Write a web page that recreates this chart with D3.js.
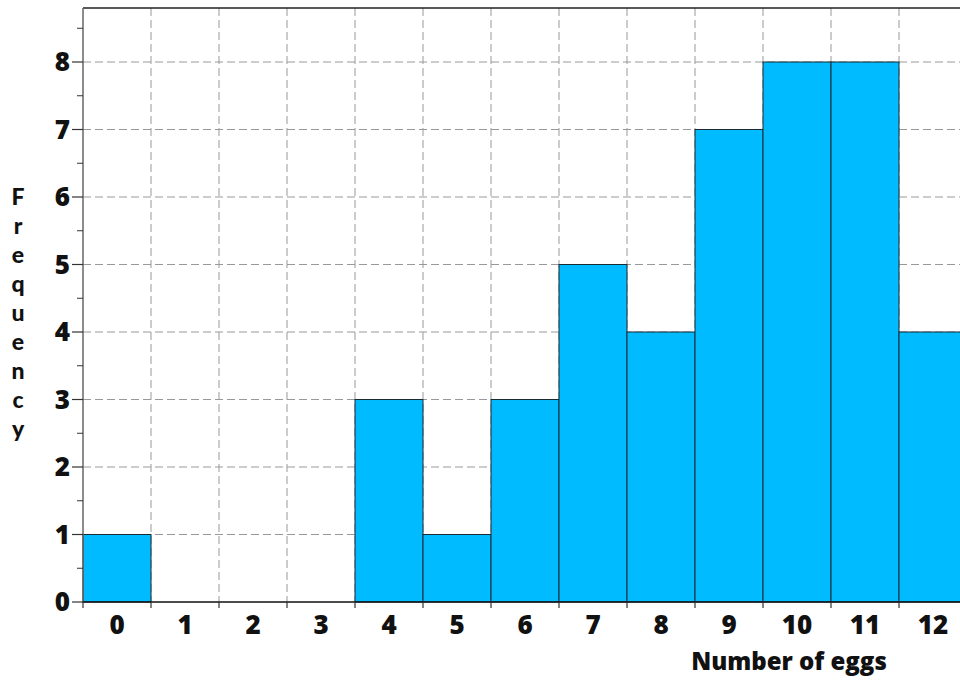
<!DOCTYPE html>
<html><head><meta charset="utf-8">
<script src="https://cdn.jsdelivr.net/npm/d3@7/dist/d3.min.js"></script>
<style>body{margin:0;background:#fff}svg{display:block}</style>
</head><body>
<script>
const categories = ["0","1","2","3","4","5","6","7","8","9","10","11","12"];
const frequencies = [1,0,0,0,3,1,3,5,4,7,8,8,4];
const yTicks = [0,1,2,3,4,5,6,7,8];
const xTitle = "Number of eggs";
const yTitle = "Frequency";

const W = 960, H = 681;
const svg = d3.select("body").append("svg").attr("width", W).attr("height", H);
const font = "'Open Sans', Lato, sans-serif";

const x = d3.scaleBand().domain(categories).range([83, 967]).padding(0);
const y = d3.scaleLinear().domain([0, 8.8]).range([602, 8]);

const g = svg.append("g");
g.selectAll("line.hg").data(yTicks.slice(1)).join("line")
  .attr("x1", x.range()[0]).attr("x2", W)
  .attr("y1", d => y(d)).attr("y2", d => y(d))
  .attr("stroke", "#999").attr("stroke-width", 1).attr("stroke-dasharray", "8,4");
const bounds = categories.slice(1).map(c => x(c));
g.selectAll("line.vg").data(bounds).join("line")
  .attr("x1", d => d).attr("x2", d => d)
  .attr("y1", y(8.8)).attr("y2", y(0))
  .attr("stroke", "#999").attr("stroke-width", 1).attr("stroke-dasharray", "8,4");

g.selectAll("rect.bar").data(categories.map((c,i)=>({c, v: frequencies[i]})).filter(d=>d.v>0)).join("rect")
  .attr("x", d => x(d.c)).attr("width", x.bandwidth())
  .attr("y", d => y(d.v)).attr("height", d => y(0) - y(d.v))
  .attr("fill", "#00bbff").attr("stroke", "#1a2a33").attr("stroke-width", 1);

g.append("line").attr("x1", 83).attr("x2", W).attr("y1", y(8.8)).attr("y2", y(8.8))
  .attr("stroke", "#222").attr("stroke-width", 1.5);

const yAxis = g.append("g").attr("transform", "translate(83,0)");
yAxis.append("line").attr("x1", 0).attr("x2", 0).attr("y1", y(8.8)).attr("y2", y(0)).attr("stroke", "#666").attr("stroke-width", 1.5);
const minor = d3.range(0, 8.51, 0.5).filter(v => v % 1 !== 0);
yAxis.selectAll("line.mt").data(minor).join("line")
  .attr("x1", -6).attr("x2", 0).attr("y1", d => y(d)).attr("y2", d => y(d)).attr("stroke", "#333").attr("stroke-width", 1);
yAxis.selectAll("line.Mt").data(yTicks).join("line")
  .attr("x1", -11).attr("x2", 0).attr("y1", d => y(d)).attr("y2", d => y(d)).attr("stroke", "#333").attr("stroke-width", 1.2);
yAxis.selectAll("text").data(yTicks).join("text")
  .attr("x", -13).attr("y", d => y(d)).attr("dy", "0.36em").attr("text-anchor", "end")
  .attr("font-family", font).attr("font-weight", 800).attr("font-size", 26).attr("fill", "#111")
  .text(d => d);

const xAxis = g.append("g");
xAxis.append("line").attr("x1", 83).attr("x2", W).attr("y1", y(0)).attr("y2", y(0)).attr("stroke", "#111").attr("stroke-width", 1.5);
xAxis.selectAll("line.xt").data([x(categories[0])].concat(bounds)).join("line")
  .attr("x1", d => d).attr("x2", d => d).attr("y1", y(0)).attr("y2", y(0) + 6).attr("stroke", "#333").attr("stroke-width", 1.2);
xAxis.selectAll("text").data(categories).join("text")
  .attr("x", d => x(d) + x.bandwidth()/2).attr("y", 634).attr("text-anchor", "middle")
  .attr("font-family", font).attr("font-weight", 800).attr("font-size", 26).attr("fill", "#111")
  .text(d => d);

svg.append("text").attr("x", 789).attr("y", 670).attr("text-anchor", "middle")
  .attr("font-family", font).attr("font-weight", 800).attr("font-size", 24).attr("fill", "#111")
  .text(xTitle);
svg.append("g").selectAll("text").data(yTitle.split("")).join("text")
  .attr("x", 18).attr("y", (d, i) => 205 + i * 29).attr("text-anchor", "middle")
  .attr("font-family", "Lato, 'Open Sans', sans-serif").attr("font-weight", 900).attr("font-size", 23).attr("fill", "#111")
  .text(d => d);
</script>
</body></html>
